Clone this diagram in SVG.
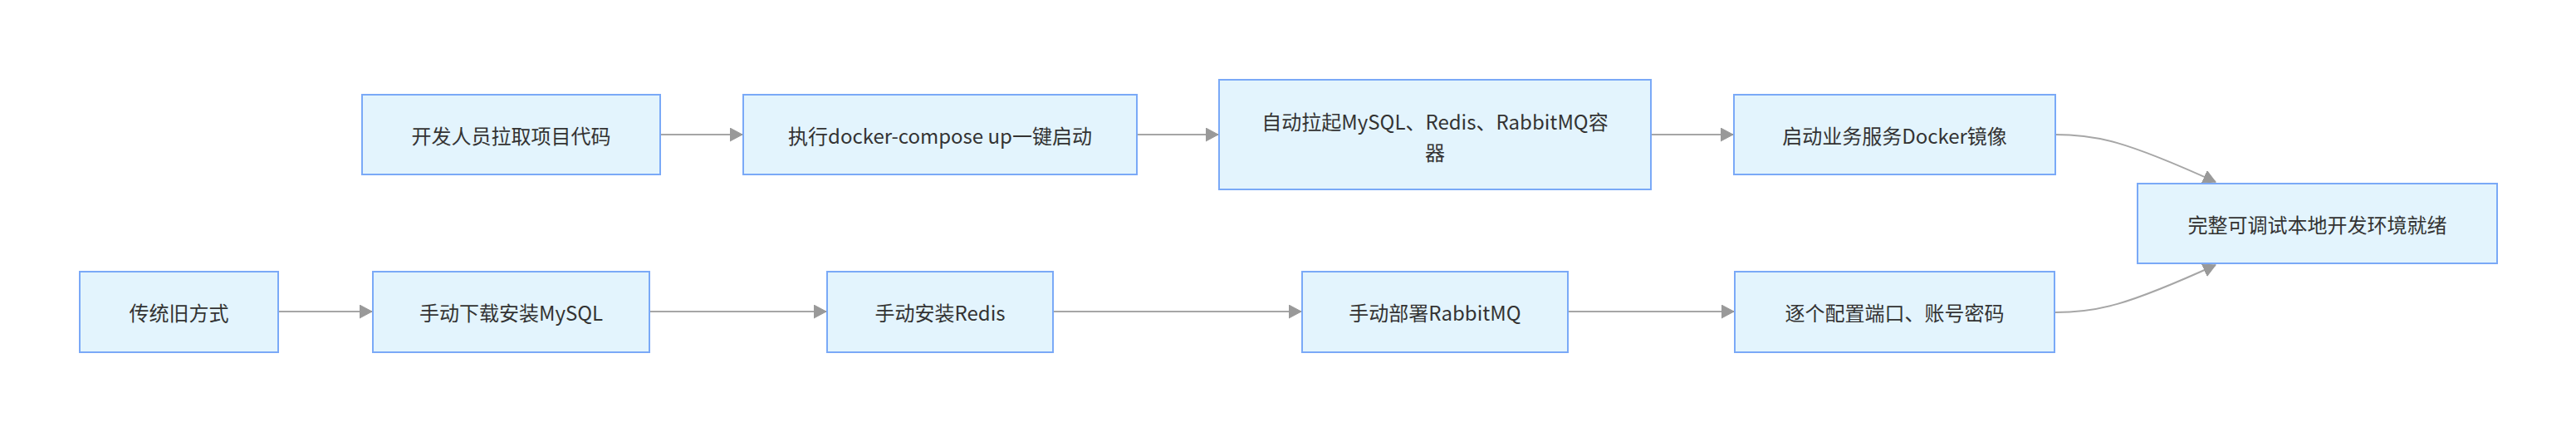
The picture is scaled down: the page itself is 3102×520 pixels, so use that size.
<svg xmlns="http://www.w3.org/2000/svg" width="3102" height="520" viewBox="0 0 3102 520">
<style>
.n rect{fill:#e3f4fd;stroke:#7aa9f7;stroke-width:2}
.n text{font-family:"Noto Sans CJK SC","Liberation Sans",sans-serif;font-size:24px;fill:#333;text-anchor:middle;dominant-baseline:central}
.e{fill:none;stroke:#a6a6a6;stroke-width:2}
</style>
<defs>
<marker id="ah" markerUnits="userSpaceOnUse" markerWidth="16" markerHeight="18" refX="15" refY="8" orient="auto">
<path d="M0,0 L15,8 L0,16 z" fill="#999" stroke="#999" stroke-width="1"/>
</marker>
</defs>
<rect width="3102" height="520" fill="#fff"/>
<g id="connectors">
<path class="e" d="M795,162 L894,162" marker-end="url(#ah)"/>
<path class="e" d="M1369,162 L1467,162" marker-end="url(#ah)"/>
<path class="e" d="M1988,162 L2087,162" marker-end="url(#ah)"/>
<path class="e" d="M2475,162 C2525,162 2560,170 2668,219" marker-end="url(#ah)"/>
<path class="e" d="M335,375 L448,375" marker-end="url(#ah)"/>
<path class="e" d="M782,375 L995,375" marker-end="url(#ah)"/>
<path class="e" d="M1268,375 L1567,375" marker-end="url(#ah)"/>
<path class="e" d="M1888,375 L2088,375" marker-end="url(#ah)"/>
<path class="e" d="M2475,376 C2525,376 2560,368 2668,319" marker-end="url(#ah)"/>
</g>
<g id="n1" class="n"><rect x="436" y="114" width="359" height="96"/><text x="615.5" y="162">开发人员拉取项目代码</text></g>
<g id="n2" class="n"><rect x="895" y="114" width="474" height="96"/><text x="1132" y="162">执行docker-compose up一键启动</text></g>
<g id="n3" class="n"><rect x="1468" y="96" width="520" height="132"/><text x="1728" y="145">自动拉起MySQL、Redis、RabbitMQ容</text><text x="1728" y="182">器</text></g>
<g id="n4" class="n"><rect x="2088" y="114" width="387" height="96"/><text x="2281.5" y="162">启动业务服务Docker镜像</text></g>
<g id="n5" class="n"><rect x="2574" y="221" width="433" height="96"/><text x="2790.5" y="269">完整可调试本地开发环境就绪</text></g>
<g id="o1" class="n"><rect x="96" y="327" width="239" height="97"/><text x="215.5" y="375">传统旧方式</text></g>
<g id="o2" class="n"><rect x="449" y="327" width="333" height="97"/><text x="615.5" y="375">手动下载安装MySQL</text></g>
<g id="o3" class="n"><rect x="996" y="327" width="272" height="97"/><text x="1132" y="375">手动安装Redis</text></g>
<g id="o4" class="n"><rect x="1568" y="327" width="320" height="97"/><text x="1728" y="375">手动部署RabbitMQ</text></g>
<g id="o5" class="n"><rect x="2089" y="327" width="385" height="97"/><text x="2281.5" y="375">逐个配置端口、账号密码</text></g>
</svg>
